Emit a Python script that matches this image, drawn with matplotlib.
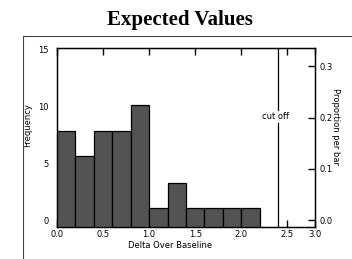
import numpy as np
import matplotlib
matplotlib.use('Agg')
import matplotlib.pyplot as plt
from matplotlib.patches import Rectangle

## data
bin_left = [0.0, 0.2, 0.4, 0.6, 0.8, 1.0, 1.2, 1.4, 1.6, 1.8, 2.0]
counts = [7.8, 5.6, 7.8, 7.8, 10.1, 1.1, 3.3, 1.1, 1.1, 1.1, 1.1]
bin_width = 0.2
n_total = 45  # proportion = count / n_total
cut_off = 2.4
x_ticks = [0.0, 0.5, 1.0, 1.5, 2.0, 2.5]
y_ticks = [0, 5, 10, 15]
p_ticks = [0.0, 0.1, 0.2, 0.3]
##

y_lo, y_hi = -0.6, 15.1
x_lo, x_hi = 0.0, 2.8

fig = plt.figure(figsize=(3.52, 2.59), dpi=100)
fig.patch.set_facecolor('white')

# outer frame (runs off the page to the right and bottom)
fig.patches.append(Rectangle((23 / 352, -0.2), 1.2, 1 - 36 / 259 + 0.2,
                             transform=fig.transFigure, fill=False,
                             edgecolor='#444444', linewidth=0.8))

ax = fig.add_axes([57 / 352, 1 - 227 / 259, (315 - 57) / 352, (227 - 48) / 259])

# bars drawn from the floor of the axis
ax.bar(bin_left, np.array(counts) - y_lo, width=bin_width, bottom=y_lo,
       align='edge', color='#535353', edgecolor='black', linewidth=0.9, zorder=3)

ax.set_xlim(x_lo, x_hi)
ax.set_ylim(y_lo, y_hi)

ax.set_xticks(x_ticks + [x_hi])
ax.set_xticklabels(['%.1f' % v for v in x_ticks] + ['3.0'], fontsize=6)
ax.tick_params(axis='x', direction='in', top=True, bottom=True, length=5,
               width=1, pad=2)
ax.set_yticks(y_ticks)
ax.set_yticklabels([str(v) for v in y_ticks], fontsize=6)
ax.tick_params(axis='y', length=0, pad=6)

for s in ax.spines.values():
    s.set_linewidth(1.0)

ax2 = ax.twinx()
ax2.set_ylim(y_lo / n_total, y_hi / n_total)
ax2.set_yticks(p_ticks)
ax2.set_yticklabels(['%.1f' % v for v in p_ticks], fontsize=6)
ax2.tick_params(axis='y', direction='in', length=5, width=1, pad=3)

# cut off line with label breaking it
ax.plot([cut_off, cut_off], [y_lo, 8.5], color='black', linewidth=0.9, zorder=4)
ax.plot([cut_off, cut_off], [9.7, y_hi], color='black', linewidth=0.9, zorder=4)
ax.text(cut_off - 0.03, 9.1, 'cut off', fontsize=6, ha='center', va='center')

ax.set_ylabel('Frequency', fontsize=6)
ax.yaxis.set_label_coords(-0.097, 0.57)
ax2.set_ylabel('Proportion per bar', fontsize=6, rotation=-90)
ax2.yaxis.set_label_coords(1.097, 0.56)
fig.text(170 / 352, 1 - 246 / 259, 'Delta Over Baseline', fontsize=6,
         ha='center', va='center')

fig.text(180 / 352, 1 - 20 / 259, 'Expected Values', fontsize=15,
         fontweight='bold', family='Liberation Serif', ha='center', va='center')

fig.savefig('out.png', dpi=100)
